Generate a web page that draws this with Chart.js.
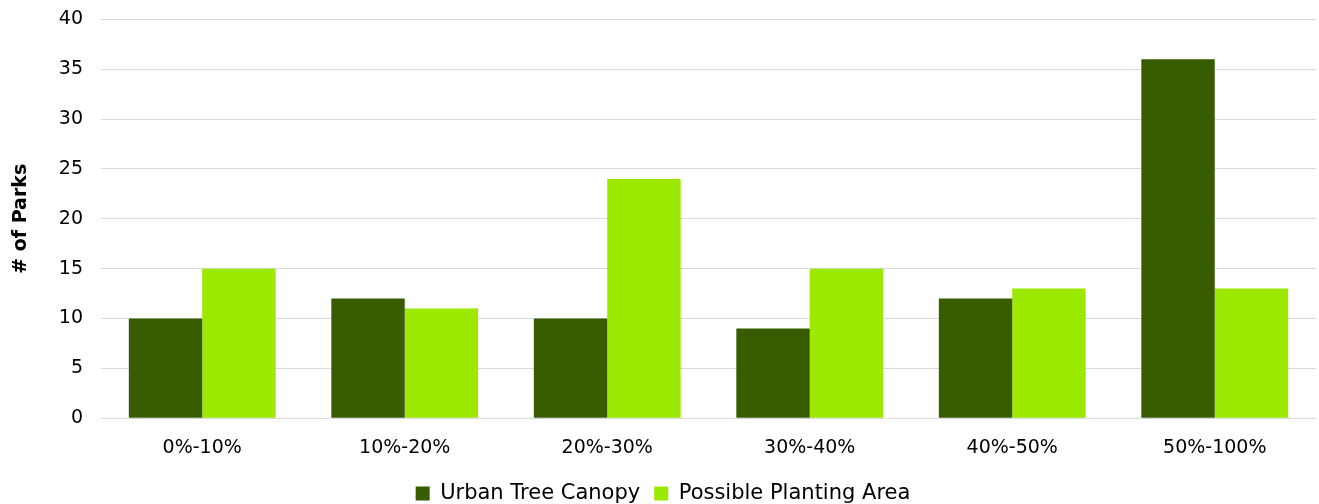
<!DOCTYPE html>
<html>
<head>
<meta charset="utf-8">
<script src="https://cdn.jsdelivr.net/npm/chart.js@4/dist/chart.umd.min.js"></script>
<style>
  html, body { margin: 0; padding: 0; background: #fff; overflow: hidden; }
  #wrap { width: 1319px; height: 514px; position: relative; top: -10px; }
</style>
</head>
<body>
<div id="wrap"><canvas id="grafica"></canvas></div>
<script>
// chart data
const categorias = ["0%-10%", "10%-20%", "20%-30%", "30%-40%", "40%-50%", "50%-100%"];
const canopy = [10, 12, 10, 9, 12, 36];
const planting = [15, 11, 24, 15, 13, 13];

const fuente = "'DejaVu Sans', 'Open Sans', sans-serif";

let ctx = document.getElementById("grafica").getContext("2d");
new Chart(ctx, {
    type: "bar",
    data: {
        labels: categorias,
        datasets: [
            { label: "Urban Tree Canopy", data: canopy, backgroundColor: "#375c00" },
            { label: "Possible Planting Area", data: planting, backgroundColor: "#9be800" }
        ]
    },
    options: {
        responsive: true,
        maintainAspectRatio: false,
        animation: false,
        layout: { autoPadding: false, padding: { top: 18, right: 3, left: 10, bottom: -10 } },
        datasets: { bar: { categoryPercentage: 0.725, barPercentage: 1 } },
        plugins: {
            legend: {
                position: "bottom",
                labels: {
                    boxWidth: 14, boxHeight: 14, padding: 14,
                    color: "#000", font: { family: fuente, size: 21 }
                }
            },
            tooltip: { enabled: false }
        },
        scales: {
            x: {
                grid: { display: false },
                border: { display: false },
                ticks: { color: "#000", font: { family: fuente, size: 19 }, padding: 10 }
            },
            y: {
                min: 0, max: 40,
                ticks: { stepSize: 5, color: "#000", font: { family: fuente, size: 19 }, padding: 18 },
                grid: { color: "#d9d9d9", drawTicks: false },
                border: { display: false },
                title: { display: true, text: "# of Parks", color: "#000", font: { family: fuente, size: 19, weight: "bold" }, padding: { top: 0, bottom: 8 } }
            }
        }
    }
});
</script>
</body>
</html>
